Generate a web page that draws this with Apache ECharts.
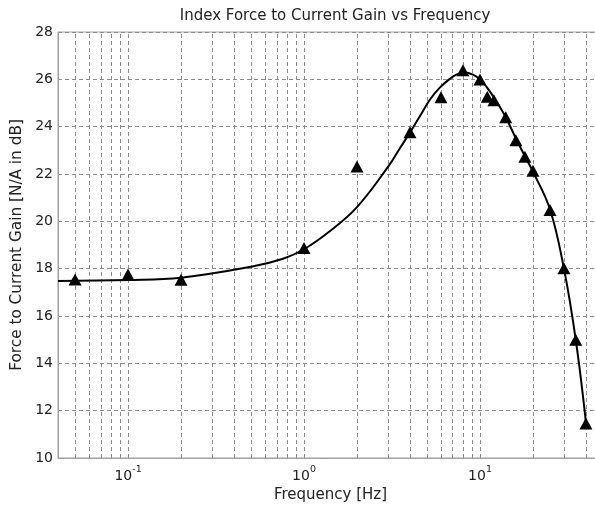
<!DOCTYPE html>
<html>
<head>
<meta charset="utf-8">
<script src="https://cdn.jsdelivr.net/npm/echarts@6/dist/echarts.min.js"></script>
<style>
html,body{margin:0;padding:0;background:#fff;}
#chart{width:595px;height:507px;}
</style>
</head>
<body>
<div id="chart"></div>
<script>
// Measured data points (triangles)
const measFreq = [0.05, 0.1, 0.2, 1, 2, 4, 6, 8, 10, 11, 12, 14, 16, 18, 20, 25, 30, 35, 40];
const measGain = [17.54, 17.75, 17.53, 18.87, 22.32, 23.76, 25.24, 26.38, 25.99, 25.26, 25.12, 24.4, 23.43, 22.73, 22.14, 20.48, 18.02, 15.0, 11.46];

// Fitted curve
const fitFreq = [0.04, 0.1, 0.2, 0.5, 0.76, 1, 1.4, 2, 3, 3.5, 4, 4.56, 5.2, 5.93, 6.76, 7.35, 8.19, 9.12, 10, 10.9, 12.2, 14, 16, 18, 20, 25, 30, 35, 40];
const fitGain = [17.48, 17.52, 17.62, 18.08, 18.42, 18.82, 19.58, 20.6, 22.3, 23.08, 23.75, 24.45, 25.15, 25.66, 26.03, 26.2, 26.29, 26.2, 26.0, 25.68, 25.15, 24.4, 23.5, 22.75, 22.1, 20.5, 18.0, 15.0, 11.5];

// Vertical grid positions on the log axis
const xGridLines = [0.05,0.06,0.07,0.08,0.09,0.1,0.2,0.3,0.4,0.5,0.6,0.7,0.8,0.9,1,2,3,4,5,6,7,8,9,10,20,30,40];

const yTicks = {min: 10, max: 28, interval: 2};

const FONT = '"DejaVu Sans", Arial, sans-serif';
const gridColor = '#8c8c8c';
const textColor = '#222';

const chart = echarts.init(document.getElementById('chart'), null, {renderer: 'canvas'});

chart.setOption({
  animation: false,
  backgroundColor: '#fff',
  title: {
    text: 'Index Force to Current Gain vs Frequency',
    left: 330, top: 4, textAlign: 'center',
    textStyle: {fontFamily: FONT, fontSize: 15, fontWeight: 'normal', color: textColor}
  },
  grid: {
    left: 58, top: 32, bottom: 49, width: 545,
    outerBoundsMode: 'none', containLabel: false,
    show: true, borderColor: '#a0a0a0', borderWidth: 1, backgroundColor: 'transparent'
  },
  xAxis: {
    type: 'log', logBase: 10, min: 0.04, max: 50,
    name: 'Frequency [Hz]', nameLocation: 'middle', nameGap: 30,
    nameTextStyle: {fontFamily: FONT, fontSize: 15, color: textColor},
    axisLine: {show: true, lineStyle: {color: '#a0a0a0'}},
    axisTick: {show: false},
    splitLine: {show: false},
    axisLabel: {
      margin: 7,
      showMinLabel: false, showMaxLabel: false,
      formatter: function (v) {
        const e = Math.round(Math.log10(v));
        if (Math.abs(Math.pow(10, e) - v) / v > 1e-6) return '';
        return '{b|10}{s|' + e + '}';
      },
      rich: {
        b: {fontFamily: FONT, fontSize: 14, color: textColor, lineHeight: 18, verticalAlign: 'bottom'},
        s: {fontFamily: FONT, fontSize: 9.5, color: textColor, lineHeight: 10, verticalAlign: 'top'}
      }
    }
  },
  yAxis: {
    type: 'value', min: yTicks.min, max: yTicks.max, interval: yTicks.interval,
    name: 'Force to Current Gain [N/A in dB]', nameLocation: 'middle', nameGap: 32,
    nameTextStyle: {fontFamily: FONT, fontSize: 15.3, color: textColor},
    axisLine: {show: true, lineStyle: {color: '#a0a0a0'}},
    axisTick: {show: false},
    axisLabel: {fontFamily: FONT, fontSize: 14, color: textColor, margin: 5},
    splitLine: {show: true, lineStyle: {color: gridColor, type: [4, 3], width: 1}}
  },
  series: [
    {
      type: 'line', data: [], silent: true, z: 1,
      markLine: {
        silent: true, z: 1, symbol: ['none', 'none'], animation: false,
        label: {show: false},
        lineStyle: {color: gridColor, type: [4, 3], width: 1},
        emphasis: {disabled: true},
        data: xGridLines.map(v => ({xAxis: v}))
      }
    },
    {
      type: 'line', z: 3,
      data: fitFreq.map((f, i) => [f, fitGain[i]]),
      smooth: 0.4, showSymbol: false,
      lineStyle: {color: '#000', width: 2}
    },
    {
      type: 'scatter', z: 4,
      data: measFreq.map((f, i) => [f, measGain[i]]),
      symbol: 'triangle', symbolSize: [13, 12],
      itemStyle: {color: '#000', opacity: 1, borderWidth: 0}
    }
  ]
});
</script>
</body>
</html>
